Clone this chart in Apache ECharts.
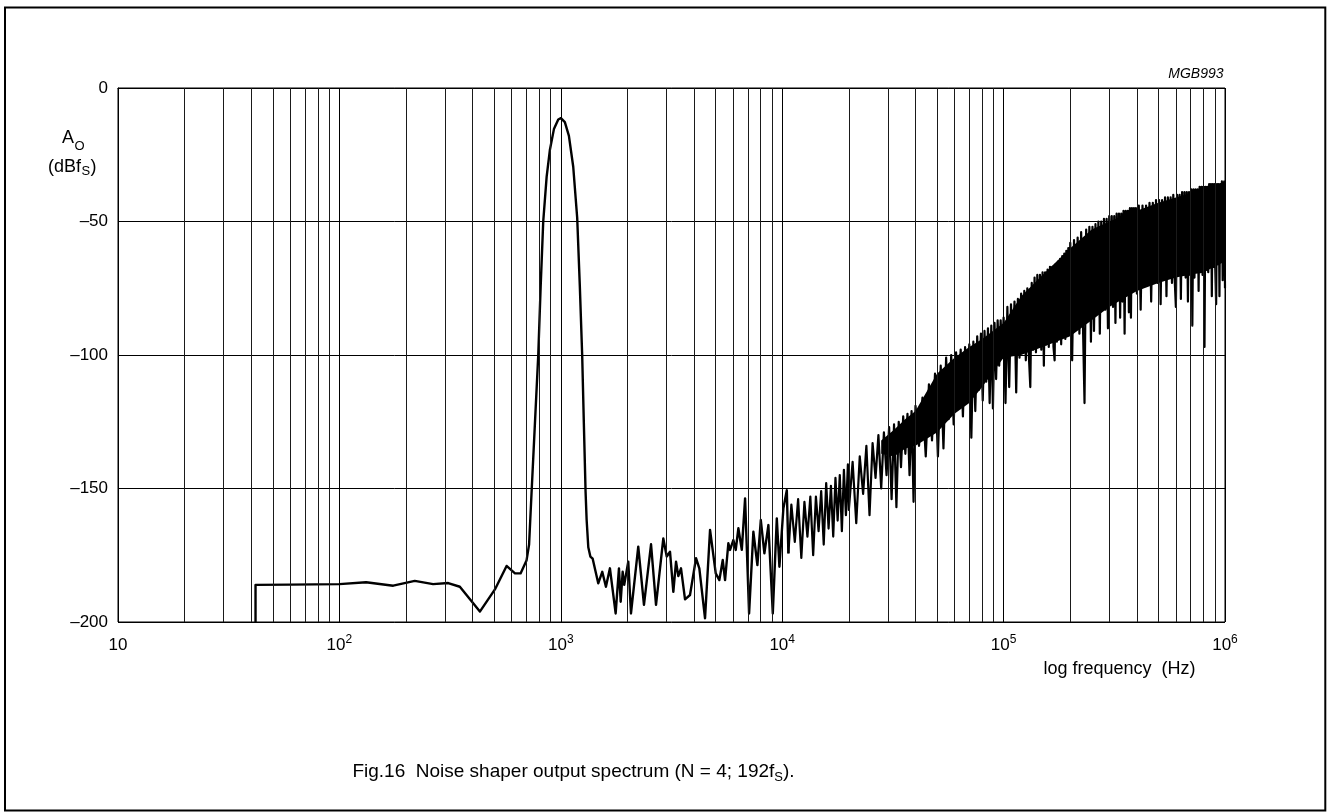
<!DOCTYPE html>
<html>
<head>
<meta charset="utf-8">
<script src="https://cdn.jsdelivr.net/npm/echarts@6/dist/echarts.min.js"></script>
<style>
html,body{margin:0;padding:0;background:#fff;}
#chart{width:1327px;height:812px;}
</style>
</head>
<body>
<div id="chart"></div>
<script>
// ---------- DATA ----------
// Smooth part: start step, flat floor, tone peak at 1 kHz
const smoothFreqHz = [41.8, 41.8, 60, 100, 132, 175, 219, 265, 310, 350, 431, 504, 569, 621, 658, 700, 719, 738, 764, 791, 811, 833, 863, 893, 931, 974, 1001, 1043, 1088, 1138, 1186, 1219, 1249, 1271, 1294, 1308, 1331, 1360, 1393];
const smoothDb     = [-200, -186.1, -186, -185.8, -185.1, -186.4, -184.6, -185.8, -185.4, -186.8, -196.1, -187.8, -179, -181.8, -181.8, -177, -171, -151.3, -125.7, -100, -74.4, -50, -33.3, -23.1, -15.4, -11.8, -11.3, -12.8, -17.9, -29.5, -48.7, -74.4, -100, -125.7, -151.3, -161.6, -172, -175.5, -176.3];

// Noise floor 1.4 kHz - 10.7 kHz
const noiseFreqLow = [1476, 1539, 1599, 1667, 1769, 1831, 1864, 1903, 1934, 2017, 2075, 2238, 2375, 2556, 2692, 2904, 3009, 3114, 3223, 3315, 3395, 3491, 3640, 3833, 4081, 4224, 4482, 4722, 5010, 5202, 5389, 5520, 5712, 5814, 6017, 6169, 6339, 6569, 6798, 7087, 7409, 7726, 8005, 8310, 8662, 9068, 9454, 9714, 10126, 10491, 10667];
const noiseDbLow   = [-185.5, -181.2, -186.8, -179.9, -196.8, -179.9, -192.4, -181.2, -186.1, -177.4, -196.8, -171.8, -193.6, -170.9, -193.6, -168.7, -175.5, -173.7, -188.7, -177.4, -182.8, -179.9, -191.5, -189.9, -176.1, -179.9, -198.6, -165.5, -181.8, -184.3, -176.8, -184.3, -170.5, -173, -169.3, -173, -164.9, -173, -153.7, -196.8, -166.2, -178.7, -161.8, -174.3, -163.7, -196.8, -161.2, -179.3, -157.4, -150.6, -174.3];

// Shaped noise 11 kHz - 100 kHz
const noiseFreqMid = [
  11000, 11400, 11800, 12200, 12600, 13000, 13400, 13800, 14200, 14600, 15000, 15400, 15800, 16200, 16600, 17000, 17400, 17800, 18200, 18600, 19000, 19400, 19800,
  20000, 20800, 21600, 22400, 23200, 24000, 24800, 25600, 26400, 27200, 28000, 28800, 29600, 30400, 31200, 32000, 32800, 33600, 34400, 35200, 36000, 36800, 37600, 38400, 39200, 40000,
  41500, 43000, 44500, 46000, 47500, 49000, 50500, 52000, 53500, 55000, 56500, 58000, 59500, 61000, 62500, 64000, 65500, 67000, 68500, 70000, 71500, 73000, 74500, 76000, 77500, 79000, 80500, 82000, 83500, 85000, 86500, 88000, 89500, 91000, 92500, 94000, 95500, 97000, 98500, 100000
];
const noiseDbMid = [
  -156, -170, -154, -176, -155, -168, -153, -175, -153, -166, -151, -171, -148, -165, -149, -168, -146, -162, -145, -166, -143, -160, -141,
  -158, -140, -163, -138, -152, -134, -160, -133, -146, -130, -150, -129, -145, -127, -154, -126, -157, -125, -142, -123, -137, -122, -145, -121, -155, -119,
  -134, -116, -138, -111, -132, -107, -138, -104, -135, -101, -124, -100, -126, -99, -118, -98, -123, -97, -115, -96, -131, -95, -121, -93, -113, -92, -117, -91, -110, -90, -118, -89, -120, -88, -109, -87, -104, -87, -101, -86
];

// Shaped noise 100 kHz - 1 MHz
const noiseFreqHigh = [
  102000, 104000, 106000, 108000, 110000, 112000, 114000, 116000, 118000, 120000, 122000, 124000, 126000, 128000, 130000, 132000, 134000, 136000, 138000, 140000,
  142000, 144000, 146000, 148000, 150000, 152000, 154000, 156000, 158000, 160000, 162000, 164000, 166000, 168000, 170000, 172000, 174000, 176000, 178000, 180000,
  182000, 184000, 186000, 188000, 190000, 192000, 194000, 196000, 198000, 200000,
  204000, 208000, 212000, 216000, 220000, 224000, 228000, 232000, 236000, 240000, 244000, 248000, 252000, 256000, 260000, 264000, 268000, 272000, 276000, 280000,
  284000, 288000, 292000, 296000, 300000, 304000, 308000, 312000, 316000, 320000, 324000, 328000, 332000, 336000, 340000, 344000, 348000, 352000, 356000, 360000,
  364000, 368000, 372000, 376000, 380000, 384000, 388000, 392000, 396000, 400000,
  408000, 416000, 424000, 432000, 440000, 448000, 456000, 464000, 472000, 480000, 488000, 496000, 504000, 512000, 520000, 528000, 536000, 544000, 552000, 560000,
  568000, 576000, 584000, 592000, 600000, 608000, 616000, 624000, 632000, 640000, 648000, 656000, 664000, 672000, 680000, 688000, 696000, 704000, 712000, 720000,
  728000, 736000, 744000, 752000, 760000, 768000, 776000, 784000, 792000, 800000, 808000, 816000, 824000, 832000, 840000, 848000, 856000, 864000, 872000, 880000,
  888000, 896000, 904000, 912000, 920000, 928000, 936000, 944000, 952000, 960000, 968000, 976000, 984000, 992000, 1000000
];
const noiseDbHigh = [
  -118, -82, -112, -81, -100, -80, -114, -79, -101, -77, -99, -76, -102, -75, -100, -112, -73, -98, -71, -99,
  -70, -97, -70, -98, -69, -104, -69, -96, -68, -97, -67, -95, -67, -97, -102, -66, -95, -65, -94, -64,
  -96, -63, -93, -62, -94, -61, -92, -60, -91, -58,
  -102, -57, -88, -56, -92, -54, -87, -118, -53, -86, -52, -95, -52, -91, -51, -84, -50, -92, -50, -82,
  -49, -83, -49, -90, -48, -80, -48, -82, -48, -88, -47, -79, -47, -86, -47, -80, -46, -92, -46, -77,
  -46, -84, -45, -86, -45, -76, -45, -75, -45, -77,
  -44, -83, -44, -74, -44, -73, -43, -80, -43, -72, -42, -73, -42, -81, -42, -71, -41, -78, -41, -70,
  -41, -73, -40, -71, -82, -40, -70, -40, -79, -39, -70, -39, -71, -39, -80, -39, -70, -38, -89, -38,
  -71, -38, -69, -38, -76, -37, -69, -37, -70, -37, -97, -37, -68, -37, -69, -36, -67, -36, -78, -36,
  -67, -36, -68, -81, -36, -66, -36, -78, -36, -65, -35, -72, -36, -35, -75
];

// Solid core of the dense noise band (upper / lower edge of the black fill)
const bandFreqHz   = [28000, 32000, 36000, 40000, 50000, 60000, 70000, 80000, 100000, 120000, 150000, 200000, 250000, 300000, 400000, 500000, 600000, 800000, 1000000];
const bandTopDb    = [-132, -128, -124, -121, -107, -101, -97, -94, -88, -78, -70, -60, -53, -50, -46, -43, -41, -38, -37];
const bandBottomDb = [-137, -138, -135, -134, -129, -122, -118, -112, -101, -100, -97, -93, -87, -82, -76, -73, -71, -69, -65];

// Axis ticks
const yTicks = [0, -50, -100, -150, -200];
const decades = [10, 100, 1000, 10000, 100000];
const gridMultipliers = [2, 3, 4, 5, 6, 7, 8, 9];

// ---------- BUILD ----------
const zip = (fs, ds) => fs.map((f, i) => [f, ds[i]]);
const lowData = zip(smoothFreqHz, smoothDb).concat(zip(noiseFreqLow, noiseDbLow));
const lastLow = lowData[lowData.length - 1];
const highData = [lastLow].concat(zip(noiseFreqMid, noiseDbMid), zip(noiseFreqHigh, noiseDbHigh));

const minorLines = [];
decades.forEach(d => gridMultipliers.forEach(m => minorLines.push({ xAxis: d * m })));

const FONT = "'Liberation Sans', Arial, Helvetica, sans-serif";
const NARROW = "'Liberation Sans Narrow', 'Arial Narrow', 'Liberation Sans', sans-serif";

const chart = echarts.init(document.getElementById('chart'), null, { renderer: 'canvas' });

chart.setOption({
  animation: false,
  backgroundColor: '#fff',
  grid: { left: 118, right: 102, top: 88, bottom: 190, show: true, borderColor: '#000', borderWidth: 1, containLabel: false },
  xAxis: {
    type: 'log', logBase: 10, min: 10, max: 1000000,
    axisLine: { show: true, lineStyle: { color: '#000', width: 1 } },
    axisTick: { show: false },
    splitLine: { show: true, lineStyle: { color: '#000', width: 1 } },
    axisLabel: {
      margin: 12,
      color: '#000',
      fontFamily: FONT,
      formatter: function (v) {
        const e = Math.round(Math.log10(v));
        return e === 1 ? '{b|10}' : '{b|10}{s|' + e + '}';
      },
      rich: {
        b: { fontSize: 17, lineHeight: 22, fontFamily: FONT, color: '#000' },
        s: { fontSize: 12, lineHeight: 12, verticalAlign: 'top', fontFamily: FONT, color: '#000' }
      }
    }
  },
  yAxis: {
    type: 'value', min: -200, max: 0, interval: 50,
    axisLine: { show: true, lineStyle: { color: '#000', width: 1 } },
    axisTick: { show: false },
    splitLine: { show: true, lineStyle: { color: '#000', width: 1 } },
    axisLabel: {
      margin: 10, color: '#000', fontSize: 17, fontFamily: FONT,
      formatter: function (v) { return yTicks.indexOf(v) >= 0 ? (v === 0 ? '0' : '\u2013' + (-v)) : ''; }
    }
  },
  series: [
    {
      type: 'line', name: 'grid', data: [], z: 1, silent: true, showSymbol: false,
      markLine: {
        silent: true, symbol: ['none', 'none'], label: { show: false },
        lineStyle: { color: '#1a1a1a', width: 1, type: 'solid' },
        emphasis: { disabled: true },
        data: minorLines
      }
    },
    {
      type: 'custom', name: 'band', silent: true, z: 2, clip: true,
      data: [[bandFreqHz[0], bandTopDb[0]]],
      renderItem: function (params, api) {
        const top = bandFreqHz.map((f, i) => api.coord([f, bandTopDb[i]]));
        const bot = bandFreqHz.map((f, i) => api.coord([f, bandBottomDb[i]])).reverse();
        return { type: 'polygon', shape: { points: top.concat(bot) }, style: { fill: '#000', stroke: null } };
      }
    },
    {
      type: 'line', name: 'spectrum', data: lowData, z: 3, silent: true,
      showSymbol: false, symbol: 'none',
      lineStyle: { color: '#000', width: 2.4, join: 'round' }
    },
    {
      type: 'line', name: 'noise', data: highData, z: 3, silent: true,
      showSymbol: false, symbol: 'none',
      lineStyle: { color: '#000', width: 2.2, join: 'round' }
    }
  ],
  graphic: [
    { type: 'rect', silent: true, shape: { x: 5, y: 7.5, width: 1320.3, height: 803 }, style: { fill: 'none', stroke: '#000', lineWidth: 2 } },
    { type: 'text', silent: true, x: 62, y: 138.5, style: { text: 'A', font: '18px ' + FONT, fill: '#000', align: 'left', verticalAlign: 'middle' } },
    { type: 'text', silent: true, x: 74.5, y: 146, style: { text: 'O', font: '13px ' + FONT, fill: '#000', align: 'left', verticalAlign: 'middle' } },
    { type: 'text', silent: true, x: 48, y: 167.5, style: { text: '(dBf', font: '18px ' + FONT, fill: '#000', align: 'left', verticalAlign: 'middle' } },
    { type: 'text', silent: true, x: 81.5, y: 171.5, style: { text: 'S', font: '13px ' + FONT, fill: '#000', align: 'left', verticalAlign: 'middle' } },
    { type: 'text', silent: true, x: 90.5, y: 167.5, style: { text: ')', font: '18px ' + FONT, fill: '#000', align: 'left', verticalAlign: 'middle' } },
    { type: 'text', silent: true, x: 1223.5, y: 74, style: { text: 'MGB993', font: 'italic 14px ' + FONT, fill: '#000', align: 'right', verticalAlign: 'middle' } },
    { type: 'text', silent: true, x: 1119.5, y: 669, style: { text: 'log frequency  (Hz)', font: '18px ' + FONT, fill: '#000', align: 'center', verticalAlign: 'middle' } },
    {
      type: 'text', silent: true, x: 573.5, y: 772,
      style: {
        text: '{a|Fig.16  Noise shaper output spectrum (N = 4; 192f}{s|S}{a|).}',
        align: 'center', verticalAlign: 'middle', fill: '#000',
        rich: {
          a: { fontSize: 19, lineHeight: 24, fontFamily: NARROW, fill: '#000' },
          s: { fontSize: 13, lineHeight: 13, verticalAlign: 'bottom', fontFamily: NARROW, fill: '#000' }
        }
      }
    }
  ]
});
</script>
</body>
</html>
